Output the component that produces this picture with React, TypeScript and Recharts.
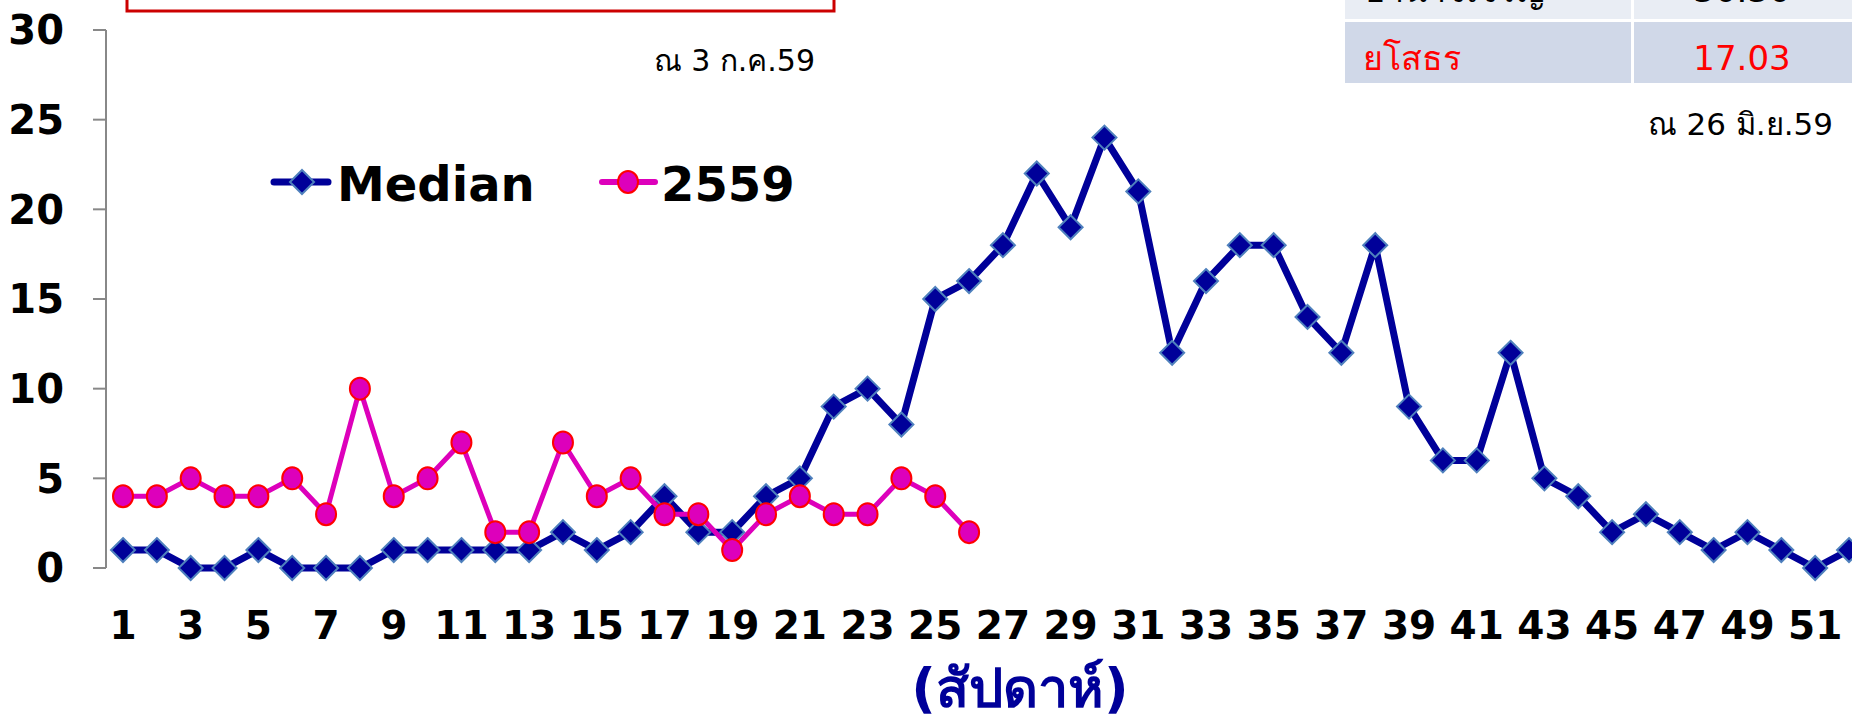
import { LineChart, Line, XAxis, YAxis, Legend } from "recharts";

const weeks = [
  1, 2, 3, 4, 5, 6, 7, 8, 9, 10, 11, 12, 13, 14, 15, 16, 17, 18, 19, 20, 21, 22, 23, 24, 25, 26,
  27, 28, 29, 30, 31, 32, 33, 34, 35, 36, 37, 38, 39, 40, 41, 42, 43, 44, 45, 46, 47, 48, 49, 50, 51, 52,
];

// median of previous years, per week
const medianCases = [
  1, 1, 0, 0, 1, 0, 0, 0, 1, 1, 1, 1, 1, 2, 1, 2, 4, 2, 2, 4, 5, 9, 10, 8, 15, 16,
  18, 22, 19, 24, 21, 12, 16, 18, 18, 14, 12, 18, 9, 6, 6, 12, 5, 4, 2, 3, 2, 1, 2, 1, 0, 1,
];

// 2559 so far (to week 26)
const cases2559 = [4, 4, 5, 4, 4, 5, 3, 10, 4, 5, 7, 2, 2, 7, 4, 5, 3, 3, 1, 3, 4, 3, 3, 5, 4, 2];

const yTicks = [0, 5, 10, 15, 20, 25, 30];
const weekEdges = [0, ...weeks];

const tableRows = [
  { name: "อำนาจเจริญ", rate: "30.30", color: "#000000", fill: "#E9EDF4" },
  { name: "ยโสธร", rate: "17.03", color: "#FF0000", fill: "#D0D8E8" },
];

const FONT = "Tahoma, 'DejaVu Sans', 'Noto Sans', sans-serif";
const NAVY = "#000099";
const MAGENTA = "#DD00BB";

const chartData = weeks.map((week, i) => ({
  week,
  median: medianCases[i],
  y2559: i < cases2559.length ? cases2559[i] : null,
}));

const DiamondDot = (props: any) => {
  const { cx, cy, index } = props;
  if (cx == null || cy == null) return null;
  const r = 12;
  return (
    <path
      key={`d-${index}`}
      d={`M${cx},${cy - r}L${cx + r},${cy}L${cx},${cy + r}L${cx - r},${cy}Z`}
      fill={NAVY}
      stroke="#4F81BD"
      strokeWidth={2}
    />
  );
};

const CircleDot = (props: any) => {
  const { cx, cy, index, value } = props;
  if (cx == null || cy == null || value == null) return null;
  return (
    <ellipse key={`c-${index}`} cx={cx} cy={cy} rx={10} ry={11} fill={MAGENTA} stroke="#FF0000" strokeWidth={2} />
  );
};

const renderLegend = () => (
  <svg width={620} height={70}>
    <line x1={4} y1={32} x2={58} y2={32} stroke={NAVY} strokeWidth={7} strokeLinecap="round" />
    <path d="M32,20L44,32L32,44L20,32Z" fill={NAVY} stroke="#4F81BD" strokeWidth={2} />
    <text x={67} y={51} fontFamily={FONT} fontWeight="bold" fontSize={48} fill="#000">
      Median
    </text>
    <line x1={332} y1={32} x2={385} y2={32} stroke={MAGENTA} strokeWidth={6} strokeLinecap="round" />
    <ellipse cx={358} cy={32} rx={10} ry={11} fill={MAGENTA} stroke="#FF0000" strokeWidth={2} />
    <text x={391} y={51} fontFamily={FONT} fontWeight="bold" fontSize={48} fill="#000">
      2559
    </text>
  </svg>
);

export default function App() {
  return (
    <div
      style={{
        position: "fixed",
        left: 0,
        top: 0,
        width: 1852,
        height: 717,
        overflow: "hidden",
        background: "#fff",
        fontFamily: FONT,
      }}
    >
      <LineChart width={1880} height={717} data={chartData} margin={{ top: 30, right: 14, left: 0, bottom: 90 }}>
        <XAxis
          xAxisId="edge"
          type="number"
          domain={[0, 52]}
          ticks={weekEdges}
          allowDataOverflow
          height={0}
          tick={false}
          tickSize={12}
          tickLine={{ stroke: "#888", strokeWidth: 2 }}
          axisLine={{ stroke: "#888", strokeWidth: 3 }}
        />
        <XAxis
          xAxisId="cat"
          dataKey="week"
          height={59}
          interval={1}
          padding={{ left: 17, right: 17 }}
          axisLine={false}
          tickLine={false}
          tickSize={0}
          tickMargin={43}
          tick={{ fontFamily: FONT, fontWeight: "bold", fontSize: 39, fill: "#000" }}
        />
        <YAxis
          width={106}
          domain={[0, 30]}
          ticks={yTicks}
          tickSize={13}
          tickMargin={29}
          tickLine={{ stroke: "#888", strokeWidth: 2 }}
          axisLine={{ stroke: "#888", strokeWidth: 2 }}
          tick={{ fontFamily: FONT, fontWeight: "bold", fontSize: 40, fill: "#000" }}
        />
        <Legend
          layout="horizontal"
          verticalAlign="middle"
          align="center"
          content={renderLegend}
          wrapperStyle={{ position: "absolute", left: 270, top: 150, width: 620, height: 70 }}
        />
        <Line
          xAxisId="cat"
          type="linear"
          dataKey="median"
          name="Median"
          stroke={NAVY}
          strokeWidth={7}
          dot={DiamondDot}
          activeDot={false}
          isAnimationActive={false}
        />
        <Line
          xAxisId="cat"
          type="linear"
          dataKey="y2559"
          name="2559"
          stroke={MAGENTA}
          strokeWidth={5}
          dot={CircleDot}
          activeDot={false}
          isAnimationActive={false}
        />
      </LineChart>
      <svg
        width={1852}
        height={717}
        style={{ position: "absolute", left: 0, top: 0, pointerEvents: "none" }}
        fontFamily={FONT}
      >
        <rect x={127} y={-20} width={707} height={31} fill="none" stroke="#CC0000" strokeWidth={3} />
        <text x={815} y={71} textAnchor="end" fontSize={30} fill="#000">
          ณ 3 ก.ค.59
        </text>
        <rect x={1345} y={-20} width={286} height={39} fill={tableRows[0].fill} />
        <rect x={1634} y={-20} width={230} height={39} fill={tableRows[0].fill} />
        <rect x={1345} y={22} width={286} height={61} fill={tableRows[1].fill} />
        <rect x={1634} y={22} width={230} height={61} fill={tableRows[1].fill} />
        <text x={1365} y={2} fontSize={34} fill={tableRows[0].color}>
          {tableRows[0].name}
        </text>
        <text x={1742} y={2} textAnchor="middle" fontSize={34} fill={tableRows[0].color}>
          {tableRows[0].rate}
        </text>
        <text x={1363} y={70} fontSize={34} fill={tableRows[1].color}>
          {tableRows[1].name}
        </text>
        <text x={1742} y={70} textAnchor="middle" fontSize={34} fill={tableRows[1].color}>
          {tableRows[1].rate}
        </text>
        <text x={1833} y={135} textAnchor="end" fontSize={31} fill="#000">
          ณ 26 มิ.ย.59
        </text>
        <text x={1020} y={707} textAnchor="middle" fontSize={54} fontWeight="bold" fill={NAVY}>
          (สัปดาห์)
        </text>
      </svg>
    </div>
  );
}
